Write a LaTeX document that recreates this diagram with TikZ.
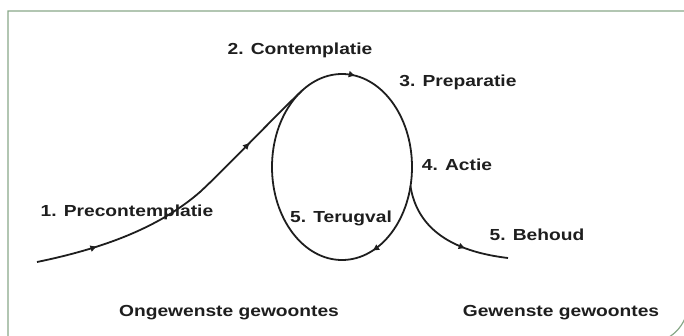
\documentclass[tikz,border=0pt]{standalone}
\usepackage{fontspec}
\setmainfont{Liberation Sans}[FakeStretch=1.2]
\usepackage{tikz}
\usetikzlibrary{arrows.meta,calc,decorations.markings}
\definecolor{framegreen}{HTML}{88A888}
\definecolor{inkgray}{HTML}{1E1E1E}

\begin{document}
\begin{tikzpicture}[
  x=1pt, y=1pt,
  >=Stealth,
  frame/.style={draw=framegreen, line width=1.2pt},
  curve/.style={draw=inkgray, line width=1.8pt},
  lbl/.style={font=\fontsize{16}{19}\selectfont\bfseries, text=inkgray, inner sep=0pt},
  tick at/.style={postaction={decorate, decoration={markings,
      mark=at position #1 with {\arrow{Triangle[length=6pt,width=6pt]}}}}}
]
  \useasboundingbox (0,0) rectangle (684,335);
  % frame
  \draw[frame] (8,-10) -- (8,324) -- (688,324) -- (688,32)
    arc[start angle=0, end angle=-90, radius=40] -- (8,-8);

  % cycle
  \coordinate (c) at (342,168);
  \coordinate (start) at (37,73);
  \coordinate (mid) at (200,143);
  \coordinate (join) at ($(c)+(125:70 and 93)$);
  \coordinate (exit) at ($(c)+(-12:70 and 93)$);
  \coordinate (stop) at (508,77);

  \draw[curve, tick at=0.775, tick at=0.186] (c) ++(0:70 and 93)
    arc[start angle=360, end angle=0, x radius=70, y radius=93];
  \draw[curve, tick at=0.19, tick at=0.77] (start)
    .. controls (110,88) and (162,110) .. (mid)
    .. controls (226,167) and (276,220) .. (join);
  \draw[curve, tick at=0.66] (exit) .. controls (416,115) and (440,85) .. (stop);

  % labels
  \node[lbl] (contemplatie) at (300,285) {2. Contemplatie};
  \node[lbl] (preparatie) at (458,253) {3. Preparatie};
  \node[lbl] (actie) at (457,170) {4. Actie};
  \node[lbl] (precontemplatie) at (127,123) {1. Precontemplatie};
  \node[lbl] (terugval) at (341,117) {5. Terugval};
  \node[lbl] (behoud) at (537,100) {5. Behoud};
  \node[lbl] (ongewenst) at (229,22) {Ongewenste gewoontes};
  \node[lbl] (gewenst) at (561,22) {Gewenste gewoontes};
\end{tikzpicture}
\end{document}
